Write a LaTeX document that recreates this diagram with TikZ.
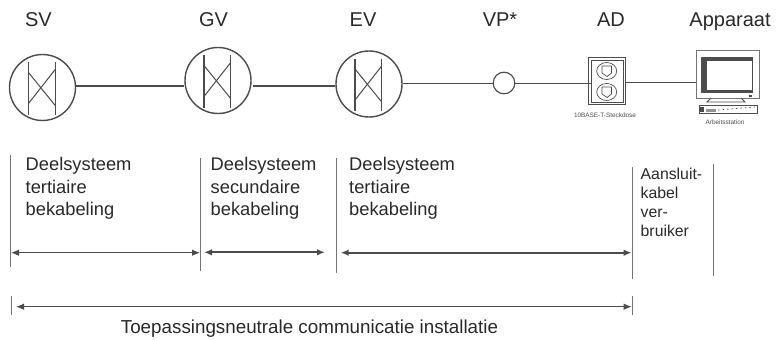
\documentclass[tikz,border=0pt]{standalone}
\usepackage{fontspec}
\setmainfont{Liberation Sans}
\usetikzlibrary{arrows.meta}
\definecolor{ink}{gray}{0.3}
\definecolor{txt}{gray}{0.16}
\definecolor{rule}{gray}{0.45}
\tikzset{
  x=1pt,y=-1pt,
  valve/.style={circle,draw=ink,line width=1.4pt,minimum size=66pt,inner sep=0pt},
  cable/.style={draw=ink,line width=1.7pt},
  thin cable/.style={draw=ink,line width=1pt},
  head/.style={font=\fontsize{20}{22}\selectfont,text=txt,inner sep=0pt,anchor=base},
  block/.style={font=\fontsize{18.3}{22.3}\selectfont,text=txt,align=left,anchor=north west,inner sep=0pt},
  smallblock/.style={font=\fontsize{15.8}{19.2}\selectfont,text=txt,align=left,anchor=north west,inner sep=0pt},
  tinylabel/.style={font=\fontsize{6.4}{7}\selectfont,text=ink,inner sep=0pt},
  tickline/.style={draw=rule,line width=0.9pt},
  spanline/.style={draw=ink,line width=1.1pt,{Latex[length=8pt,width=6.5pt]}-{Latex[length=8pt,width=6.5pt]}},
  wspan/.style={spanline,line width=1.8pt},
}
\newcommand{\crossmark}[2]{%
  \draw[ink,line width=1.3pt] (#1-14,#2-25.5) -- (#1-14,#2+27) (#1+12.7,#2-25.5) -- (#1+12.7,#2+27);
  \draw[ink,line width=1pt] (#1-14,#2-15) -- (#1+12.7,#2+18) (#1+12.7,#2-18) -- (#1-14,#2+16);
}
\begin{document}
\begin{tikzpicture}
\useasboundingbox (0,0) rectangle (777,340);
% headings
\node[head] (tsv) at (38.5,27) {SV};
\node[head] (tgv) at (213.5,27) {GV};
\node[head] (tev) at (363,27) {EV};
\node[head] (tvp) at (500,27) {VP*};
\node[head] (tad) at (611,26) {AD};
\node[head] (tap) at (730,26) {Apparaat};
% distributors
\node[valve] (sv) at (42.5,87.5) {};
\node[valve] (gv) at (218,80.5) {};
\node[valve] (ev) at (369,84) {};
\crossmark{42.5}{87.5}
\crossmark{218}{80.5}
\crossmark{369}{84}
\node[circle,draw=ink,line width=1pt,minimum size=21.5pt,inner sep=0pt] (vp) at (504,83) {};
% outlet
\node[draw=ink,line width=1pt,minimum width=37pt,minimum height=47pt,inner sep=0pt] (ad) at (607,80.5) {};
\draw[ink,line width=0.6pt] (591,60) rectangle (623,102);
\draw[ink,line width=0.7pt] (606.7,71) ellipse (10 and 8.5) (606.7,92) ellipse (10 and 8.5);
\draw[ink,line width=0.7pt] (602,66) -- (611.5,66) -- (611.5,73) -- (607,76.5) -- (602,73) -- cycle
  (602,87) -- (611.5,87) -- (611.5,94) -- (607,97.5) -- (602,94) -- cycle;
\node[tinylabel] (adl) at (605,115) {10BASE-T-Steckdose};
% monitor
\node[draw=rule,line width=0.7pt,minimum width=63pt,minimum height=48pt,inner sep=0pt] (mon) at (727.5,74) {};
\fill[ink] (701,57) rectangle (753,93);
\fill[white] (706.5,61) rectangle (751.5,89.5);
\fill[ink] (748.5,95) rectangle (751.5,96.5);
\draw[ink,line width=0.8pt] (711,98) -- (707,102) -- (745,102) -- (741,98);
\draw[ink,line width=0.6pt] (699,105) rectangle (757,113);
\fill[ink] (700,107) rectangle (704,112);
\fill[ink!60] (706,108.5) rectangle (716,111.5);
\draw[ink,line width=0.7pt,dash pattern=on 1.5pt off 3pt] (718,110) -- (755,107);
\node[tinylabel] (monl) at (725,122) {Arbeitsstation};
% cables
\draw[cable] (sv.east |- 0,86) -- (gv.west |- 0,86);
\coordinate (gvout) at (253,86);
\draw[cable] (gvout) -- (ev.west |- gvout);
\draw[thin cable] (ev.east |- vp) -- (vp);
\coordinate (adin) at (591.5,83);
\draw[thin cable] (vp) -- (adin);
\draw[thin cable,line width=0.8pt] (ad.east |- 0,82) -- (mon.west |- 0,82);
\fill[white,draw=ink,line width=1pt] (vp.center) circle (10.75);
% text blocks
\node[block] (b1) at (25.5,157.4) {Deelsysteem\\tertiaire\\bekabeling};
\node[block] (b2) at (210.5,157.4) {Deelsysteem\\secundaire\\bekabeling};
\node[block] (b3) at (349,157.4) {Deelsysteem\\tertiaire\\bekabeling};
\node[smallblock] (b4) at (640.5,167.5) {Aansluit-\\kabel\\ver-\\bruiker};
% ticks
\coordinate (t1a) at (10.7,155); \coordinate (t1b) at (10.7,267);
\coordinate (t2a) at (200.7,158); \coordinate (t2b) at (200.7,271);
\coordinate (t3a) at (336,158); \coordinate (t3b) at (336,273);
\coordinate (t4a) at (632.7,167); \coordinate (t4b) at (632.7,279);
\coordinate (t5a) at (713.5,164); \coordinate (t5b) at (713.5,276);
\coordinate (t6a) at (11.7,296); \coordinate (t6b) at (11.7,315);
\coordinate (t7a) at (632.7,296); \coordinate (t7b) at (632.7,315);
\foreach \n in {1,...,7} \draw[tickline] (t\n a) -- (t\n b);
% spans
\coordinate (s1a) at (11,252.7); \coordinate (s1b) at (200,252.7);
\coordinate (s2a) at (204,252.3); \coordinate (s2b) at (325,252.3);
\coordinate (s3a) at (340.7,252.7); \coordinate (s3b) at (631.7,252.7);
\coordinate (s4a) at (16,306.7); \coordinate (s4b) at (631.7,306.7);
\draw[spanline] (s1a) -- (s1b);
\draw[wspan] (s2a) -- (s2b);
\draw[wspan] (s3a) -- (s3b);
\draw[spanline] (s4a) -- (s4b);
\node[font=\fontsize{18.8}{20}\selectfont,text=txt,inner sep=0pt,anchor=base] (cap) at (309.5,333) {Toepassingsneutrale communicatie installatie};
\end{tikzpicture}
\end{document}
